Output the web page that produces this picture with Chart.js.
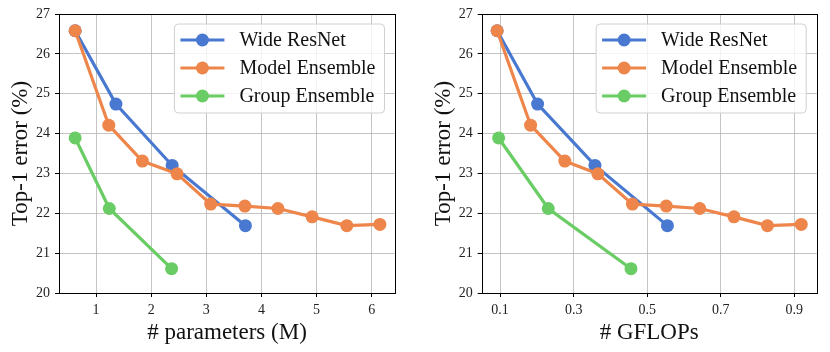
<!DOCTYPE html>
<html>
<head>
<meta charset="utf-8">
<script src="https://cdn.jsdelivr.net/npm/chart.js@4.4.0/dist/chart.umd.min.js"></script>
<style>
  html, body { margin: 0; padding: 0; background: #fff; }
  .panel { position: absolute; top: 0; width: 415px; height: 352px; }
</style>
</head>
<body>
<div class="panel" style="left:0"><canvas id="paramsChart" width="415" height="352"></canvas></div>
<div class="panel" style="left:415px"><canvas id="flopsChart" width="415" height="352"></canvas></div>
<script>
// series names
var seriesNames = ['Wide ResNet', 'Model Ensemble', 'Group Ensemble'];
var seriesColors = ['#4878d0', '#ee854a', '#6acc64'];

// top-1 error (%)
var errWide = [26.58, 24.74, 23.20, 21.69];
var errModel = [26.58, 24.21, 23.31, 22.99, 22.23, 22.18, 22.12, 21.91, 21.69, 21.72];
var errGroup = [23.89, 22.12, 20.61];

// # parameters (M)
var paramsWide = [0.62, 1.36, 2.38, 3.71];
var paramsModel = [0.62, 1.23, 1.84, 2.47, 3.08, 3.70, 4.30, 4.92, 5.55, 6.15];
var paramsGroup = [0.62, 1.24, 2.37];

// # GFLOPs
var flopsWide = [0.092, 0.202, 0.358, 0.555];
var flopsModel = [0.092, 0.183, 0.276, 0.366, 0.460, 0.552, 0.643, 0.736, 0.827, 0.919];
var flopsGroup = [0.096, 0.231, 0.456];

// tick labels
var paramsTicks = [1, 2, 3, 4, 5, 6];
var flopsTicks = [0.1, 0.3, 0.5, 0.7, 0.9];
var errTicks = [20, 21, 22, 23, 24, 25, 26, 27];

var serif = "'Liberation Serif', 'DejaVu Serif', serif";

function toPoints(xs, ys) {
    return xs.map(function (x, i) { return { x: x, y: ys[i] }; });
}

// frame around the plot area (all four spines)
var framePlugin = {
    id: 'frame',
    afterDatasetsDraw: function (chart) {
        var a = chart.chartArea, ctx = chart.ctx;
        ctx.save();
        ctx.strokeStyle = '#000';
        ctx.lineWidth = 1;
        ctx.strokeRect(Math.round(a.left) + 0.5, Math.round(a.top) + 0.5,
            Math.round(a.right - a.left), Math.round(a.bottom - a.top));
        ctx.restore();
    }
};

// matplotlib-style legend in the upper right corner
var legendPlugin = {
    id: 'mplLegend',
    afterDraw: function (chart) {
        var a = chart.chartArea, ctx = chart.ctx;
        ctx.save();
        ctx.font = '20px ' + serif;
        var maxW = 0;
        seriesNames.forEach(function (n) { maxW = Math.max(maxW, ctx.measureText(n).width); });
        var w = 6 + 44 + 15 + maxW + 9;
        var h = 89;
        var right = a.right - 10.5, top = a.top + 10;
        var left = right - w;
        ctx.beginPath();
        ctx.roundRect(left, top, w, h, 4);
        ctx.fillStyle = 'rgba(255,255,255,0.8)';
        ctx.fill();
        ctx.strokeStyle = '#d0d0d0';
        ctx.lineWidth = 1;
        ctx.stroke();
        seriesNames.forEach(function (n, i) {
            var cy = top + 16 + i * 28;
            ctx.strokeStyle = seriesColors[i];
            ctx.lineWidth = 3.2;
            ctx.beginPath();
            ctx.moveTo(left + 6, cy);
            ctx.lineTo(left + 50, cy);
            ctx.stroke();
            ctx.fillStyle = seriesColors[i];
            ctx.beginPath();
            ctx.arc(left + 28, cy, 6.5, 0, Math.PI * 2);
            ctx.fill();
            ctx.fillStyle = '#111';
            ctx.textBaseline = 'middle';
            ctx.fillText(n, left + 65, cy + 1);
        });
        ctx.restore();
    }
};

function makeDataset(i, xs, ys) {
    return {
        label: seriesNames[i],
        data: toPoints(xs, ys),
        borderColor: seriesColors[i],
        backgroundColor: seriesColors[i],
        borderWidth: 3.2,
        pointRadius: 6.5,
        pointBorderWidth: 0,
        pointHoverRadius: 6.5,
        tension: 0,
        order: 3 - i
    };
}

function initChart(canvasId, series, xMin, xMax, xTicks, xTitle, xFmt, padLeft, padRight) {
    var tickFont = { family: serif, size: 14 };
    var titleFont = { family: serif, size: 23 };
    var ctx = document.getElementById(canvasId).getContext('2d');
    return new Chart(ctx, {
        type: 'line',
        data: {
            datasets: [
                makeDataset(0, series[0], errWide),
                makeDataset(1, series[1], errModel),
                makeDataset(2, series[2], errGroup)
            ]
        },
        options: {
            responsive: false,
            animation: false,
            devicePixelRatio: 1,
            layout: { padding: { top: 14, right: padRight, left: padLeft, bottom: 0 } },
            plugins: { legend: { display: false }, tooltip: { enabled: false } },
            scales: {
                x: {
                    type: 'linear',
                    min: xMin,
                    max: xMax,
                    afterBuildTicks: function (scale) {
                        scale.ticks = xTicks.map(function (v) { return { value: v }; });
                    },
                    afterFit: function (scale) { scale.height = 59; },
                    ticks: {
                        font: tickFont,
                        color: '#222',
                        padding: 5,
                        maxRotation: 0,
                        callback: function (v) { return xFmt(v); }
                    },
                    grid: { color: 'rgba(176,176,176,0.75)', lineWidth: 1, tickColor: '#000', tickLength: 4 },
                    border: { display: false },
                    title: { display: true, text: xTitle, font: titleFont, color: '#111', padding: { top: 5, bottom: 5 } }
                },
                y: {
                    type: 'linear',
                    min: 20,
                    max: 27,
                    afterBuildTicks: function (scale) {
                        scale.ticks = errTicks.map(function (v) { return { value: v }; });
                    },
                    afterFit: function (scale) { scale.width = 59; },
                    ticks: { font: tickFont, color: '#222', padding: 5 },
                    grid: { color: 'rgba(176,176,176,0.75)', lineWidth: 1, tickColor: '#000', tickLength: 4 },
                    border: { display: false },
                    title: { display: true, text: 'Top-1 error (%)', font: titleFont, color: '#111', padding: { top: 7, bottom: 7 } }
                }
            }
        },
        plugins: [framePlugin, legendPlugin]
    });
}

initChart('paramsChart', [paramsWide, paramsModel, paramsGroup], 0.327, 6.424, paramsTicks,
    '# parameters (M)', function (v) { return String(v); }, 0, 20);
initChart('flopsChart', [flopsWide, flopsModel, flopsGroup], 0.050, 0.961, flopsTicks,
    '# GFLOPs', function (v) { return v.toFixed(1); }, 7.7, 13.3);
</script>
</body>
</html>
